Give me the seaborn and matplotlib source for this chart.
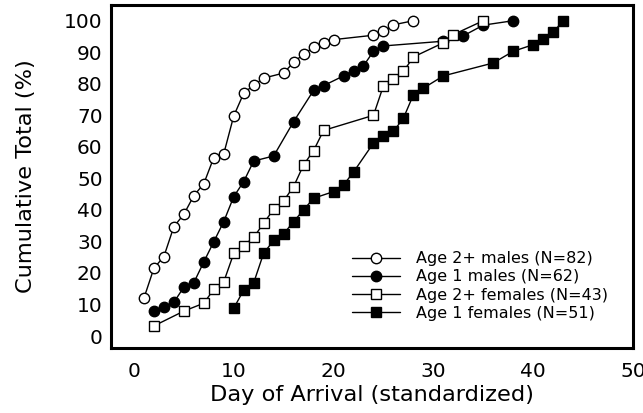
import matplotlib
matplotlib.use("Agg")
import matplotlib.pyplot as plt
import seaborn as sns
import pandas as pd

# ---- data ----
m2_days = [1, 2, 3, 4, 5, 6, 7, 8, 9, 10, 11, 12, 13, 15, 16, 17, 18, 19, 20, 24, 25, 26, 28]
m2_vals = [12, 21.5, 25.2, 34.7, 38.6, 44.5, 48.3, 56.6, 57.8, 69.8, 77, 79.6, 81.8,
           83.4, 86.8, 89.4, 91.6, 92.9, 94, 95.4, 96.6, 98.7, 100]

m1_days = [2, 3, 4, 5, 6, 7, 8, 9, 10, 11, 12, 14, 16, 18, 19, 21, 22, 23, 24, 25, 31, 33, 35, 38]
m1_vals = [8, 9.1, 10.7, 15.5, 16.9, 23.5, 29.9, 36.3, 44.2, 49, 55.5, 57.1, 68, 77.9,
           79.4, 82.5, 84.2, 85.7, 90.3, 92, 93.5, 95.2, 98.6, 100]

f2_days = [2, 5, 7, 8, 9, 10, 11, 12, 13, 14, 15, 16, 17, 18, 19, 24, 25, 26, 27, 28, 31, 32, 35]
f2_vals = [3.2, 7.9, 10.4, 14.8, 17.2, 26.2, 28.7, 31.3, 35.8, 40.2, 42.9, 47.4, 54.3,
           58.8, 65.2, 70, 79.4, 81.5, 83.9, 88.5, 93, 95.6, 100]

f1_days = [10, 11, 12, 13, 14, 15, 16, 17, 18, 20, 21, 22, 24, 25, 26, 27, 28, 29, 31,
           36, 38, 40, 41, 42, 43]
f1_vals = [8.8, 14.6, 16.9, 26.3, 30.3, 32.4, 36.3, 40, 43.7, 45.8, 47.9, 52, 61.2, 63.3,
           64.9, 69.1, 76.5, 78.6, 82.5, 86.6, 90.3, 92.4, 94.2, 96.3, 100]

labels = ["Age 2+ males (N=82)", "Age 1 males (N=62)",
          "Age 2+ females (N=43)", "Age 1 females (N=51)"]
x_ticks = [0, 10, 20, 30, 40, 50]
y_ticks = [0, 10, 20, 30, 40, 50, 60, 70, 80, 90, 100]

sns.set_theme(style="white")
plt.rcParams['font.family'] = ['DejaVu Sans']
plt.rcParams['text.color'] = 'black'

fig = plt.figure(figsize=(6.43, 4.13), dpi=100)
ax = fig.add_axes([0.1726, 0.1574, 0.8118, 0.8306])

series = [
    (m2_days, m2_vals, 'o', 'white', labels[0]),
    (m1_days, m1_vals, 'o', 'black', labels[1]),
    (f2_days, f2_vals, 's', 'white', labels[2]),
    (f1_days, f1_vals, 's', 'black', labels[3]),
]
for d, v, mk, fc, lab in series:
    df = pd.DataFrame({"day": d, "pct": v})
    sns.lineplot(data=df, x="day", y="pct", ax=ax, estimator=None, color='black',
                 linewidth=1.0, marker=mk, markersize=7.5, markerfacecolor=fc,
                 markeredgecolor='black', markeredgewidth=1.0, label=lab)

ax.set_xlim(-2.3, 50)
ax.set_ylim(-3.8, 105)
ax.set_xticks(x_ticks)
ax.set_yticks(y_ticks)
ax.tick_params(direction='in', length=5, width=1.2, color='black',
               labelsize=14.5, labelcolor='black')
ax.tick_params(axis='x', pad=10)
ax.tick_params(axis='y', pad=6)
for s in ax.spines.values():
    s.set_linewidth(2.2)
    s.set_color('black')

ax.set_xlabel("Day of Arrival (standardized)", fontsize=16.2, labelpad=3, color='black')
ax.set_ylabel("Cumulative Total (%)", fontsize=16.2, labelpad=20, color='black')

leg = ax.legend(loc='upper left', bbox_to_anchor=(0.462, 0.282), frameon=False,
                fontsize=11.5, handlelength=3.0, handletextpad=1.0,
                labelspacing=0.2, borderpad=0, borderaxespad=0, labelcolor='black')

fig.savefig("out.png", dpi=100)
